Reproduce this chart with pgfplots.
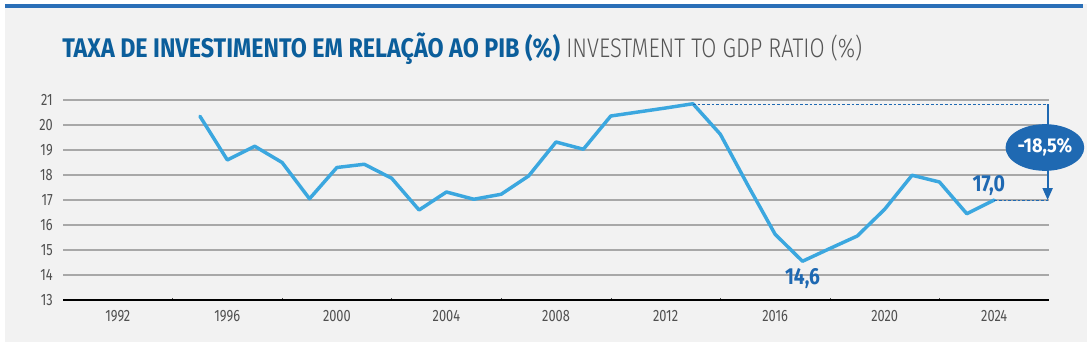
\documentclass[border=0pt]{standalone}
\usepackage{pgfplots}
\pgfplotsset{compat=1.18}
\usepackage{fontspec}
\usepackage{graphicx}
\setmainfont{Fira Sans}
\newfontfamily\lightfont{Fira Sans Light}
\newfontfamily\tickfont{Fira Sans}[FakeStretch=0.78]
\usetikzlibrary{arrows.meta,shapes.geometric}
\definecolor{panelgray}{HTML}{F2F2F2}
\definecolor{bandblue}{HTML}{2A6FB7}
\definecolor{titleblue}{HTML}{0B5E9B}
\definecolor{titlegray}{HTML}{555555}
\definecolor{tickgray}{HTML}{505050}
\definecolor{gridgray}{HTML}{A8A8A8}
\definecolor{lineblue}{HTML}{3BA7DF}
\definecolor{annblue}{HTML}{1F69B2}
\pgfplotstableread{
year value
1995 20.35
1996 18.60
1997 19.15
1998 18.50
1999 17.05
2000 18.30
2001 18.43
2002 17.87
2003 16.60
2004 17.32
2005 17.03
2006 17.23
2007 17.96
2008 19.32
2009 19.03
2010 20.36
2011 20.52
2012 20.68
2013 20.85
2014 19.63
2015 17.60
2016 15.63
2017 14.55
2018 15.06
2019 15.56
2020 16.63
2021 17.99
2022 17.72
2023 16.45
2024 17.00
}\datatable
\begin{document}
\begin{tikzpicture}
\fill[white] (0,0) rectangle (818.25pt,260.25pt);
\fill[panelgray] (3.75pt,3.75pt) rectangle (815.25pt,257.25pt);
\fill[bandblue] (3.75pt,254.25pt) rectangle (812.25pt,257.25pt);
\node[anchor=base west, inner sep=0pt, text=titleblue] at (46.5pt,216.75pt)
  {\resizebox{373.5pt}{\height}{\fontsize{20.2}{21}\selectfont\bfseries TAXA DE INVESTIMENTO EM RELAÇÃO AO PIB (\%)}};
\node[anchor=base west, inner sep=0pt, text=titlegray] at (424.5pt,216.75pt)
  {\resizebox{222pt}{\height}{\lightfont\fontsize{20.2}{21}\selectfont INVESTMENT TO GDP RATIO (\%)}};
\begin{axis}[
  at={(47.25pt,35.25pt)}, anchor=south west,
  scale only axis, width=739.5pt, height=150pt,
  xmin=1990, xmax=2026, ymin=13, ymax=21,
  clip=false,
  axis x line*=bottom, axis y line*=left,
  y axis line style={draw=none},
  x axis line style={black, line width=1.5pt},
  xtick={1992,1996,2000,2004,2008,2012,2016,2020,2024},
  xticklabels={1992,1996,2000,2004,2008,2012,2016,2020,2024},
  ytick={13,14,15,16,17,18,19,20,21},
  yticklabels={13,14,15,16,17,18,19,20,21},
  minor xtick={1994,1998,2002,2006,2010,2014,2018,2022},
  major tick length=0pt,
  minor tick length=1.6pt,
  minor tick style={black!70, line width=0.4pt},
  ymajorgrids,
  major grid style={gridgray, line width=0.9pt},
  ticklabel style={font=\tickfont\fontsize{12.3}{13}\selectfont, text=tickgray},
  yticklabel style={inner sep=0pt, anchor=east, xshift=-7.5pt},
  xticklabel style={inner sep=0pt, anchor=north, yshift=-7.2pt},
  /pgf/number format/assume math mode=true,
]
\addplot[lineblue, line width=2.6pt, line join=round, line cap=round] table[x=year, y=value] {\datatable};
\draw[annblue, line width=0.7pt, dash pattern=on 2pt off 1.5pt] (axis cs:2013,20.83) -- (axis cs:2026,20.83);
\draw[annblue, line width=0.7pt, dash pattern=on 2pt off 1.5pt] (axis cs:2024,17) -- (axis cs:2026,17);
\draw[annblue, line width=1.5pt, -{Triangle[width=7.5pt,length=9pt]}] (axis cs:2025.95,20.83) -- (axis cs:2025.95,17.0);
\node[ellipse, fill=annblue, minimum width=59pt, minimum height=35pt, inner sep=0pt, text=white] at (axis cs:2025.85,19.1)
  {\resizebox{41pt}{\height}{\fontsize{15}{16}\selectfont\bfseries -18,5\%}};
\node[text=annblue, inner sep=0pt] at (axis cs:2017,13.87)
  {\resizebox{26.25pt}{\height}{\fontsize{17.4}{18}\selectfont\bfseries 14,6}};
\node[text=annblue, inner sep=0pt] at (axis cs:2023.8,17.59)
  {\resizebox{24.25pt}{\height}{\fontsize{17.4}{18}\selectfont\bfseries 17,0}};
\end{axis}
\end{tikzpicture}
\end{document}
